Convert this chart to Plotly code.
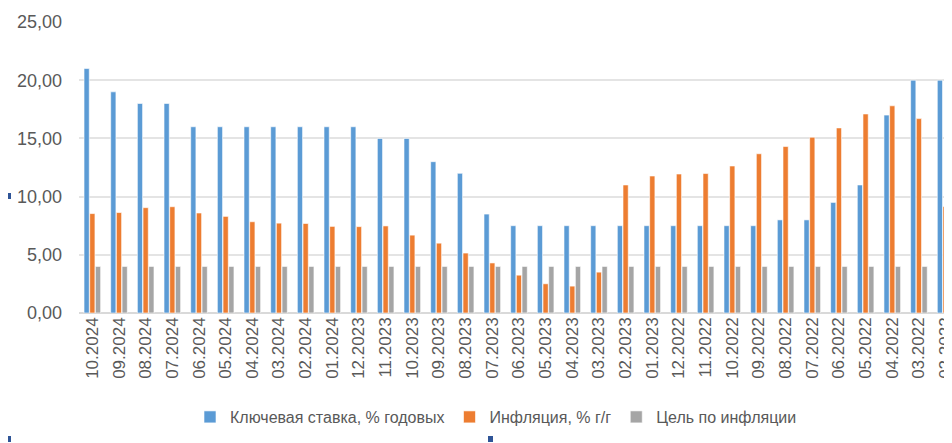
import plotly.graph_objects as go

categories = ["10.2024", "09.2024", "08.2024", "07.2024", "06.2024", "05.2024", "04.2024",
              "03.2024", "02.2024", "01.2024", "12.2023", "11.2023", "10.2023", "09.2023",
              "08.2023", "07.2023", "06.2023", "05.2023", "04.2023", "03.2023", "02.2023",
              "01.2023", "12.2022", "11.2022", "10.2022", "09.2022", "08.2022", "07.2022",
              "06.2022", "05.2022", "04.2022", "03.2022", "02.2022"]

key_rate = [21, 19, 18, 18, 16, 16, 16, 16, 16, 16, 16, 15, 15, 13, 12, 8.5, 7.5, 7.5, 7.5,
            7.5, 7.5, 7.5, 7.5, 7.5, 7.5, 7.5, 8, 8, 9.5, 11, 17, 20, 20]

inflation = [8.54, 8.63, 9.05, 9.13, 8.59, 8.30, 7.84, 7.72, 7.69, 7.44, 7.42, 7.48, 6.69,
             6.00, 5.15, 4.30, 3.25, 2.51, 2.31, 3.51, 11.0, 11.77, 11.94, 11.98, 12.63,
             13.68, 14.30, 15.10, 15.90, 17.10, 17.80, 16.70, 9.15]

target = [4.0] * len(categories)

series_names = ["Ключевая ставка, % годовых", "Инфляция, % г/г", "Цель по инфляции"]
colors = ["#5B9BD5", "#ED7D31", "#A5A5A5"]

fig = go.Figure()
for name, vals, col in zip(series_names, [key_rate, inflation, target], colors):
    fig.add_trace(go.Bar(x=categories, y=vals, name=name,
                         marker=dict(color=col, line=dict(color="white", width=0.6))))

font_family = "Liberation Sans, Arial, sans-serif"
grey_text = "#595959"

# page has an 8px body margin: figure coordinates = page coordinates - 8
OFF = 8
W, H = 952 - OFF, 443 - OFF
L, T = 79 - OFF, 22 - OFF
PLOT_BOTTOM = 313 - OFF
B = H - PLOT_BOTTOM
PW, PH = W - L, H - T - B


def px(xp):
    return (xp - OFF - L) / PW


def py(yp):
    return (PLOT_BOTTOM - (yp - OFF)) / PH


fig.update_layout(
    width=W, height=H,
    margin=dict(l=L, r=0, t=T, b=B, autoexpand=False),
    paper_bgcolor="white", plot_bgcolor="white",
    barmode="group", bargap=0.36, bargroupgap=0.08,
    separators=", ",
    font=dict(family=font_family, color=grey_text),
    showlegend=True,
    legend=dict(orientation="h", x=px(496), xanchor="center",
                y=py(417), yanchor="middle",
                font=dict(size=16, color=grey_text), itemwidth=30, traceorder="normal"),
    xaxis=dict(type="category", range=[-0.5, 32.24], tickangle=-90, automargin=False,
               tickfont=dict(size=17, color=grey_text), showgrid=False,
               showline=False, ticks=""),
    yaxis=dict(range=[0, 25], tickvals=[0, 5, 10, 15, 20, 25], tickformat=".2f",
               automargin=False,
               tickfont=dict(size=18, color=grey_text), showgrid=True,
               gridcolor="#E4E4E4", gridwidth=1.5, zeroline=True, zerolinecolor="#D9D9D9",
               zerolinewidth=1.5, ticks="", ticklabelstandoff=16),
)

# small decorative markers present in the source image (page coordinates)
for (x0, y0) in [(6, 193), (6, 436), (488, 436)]:
    fig.add_shape(type="rect", xref="paper", yref="paper",
                  x0=px(x0), x1=px(x0 + 5),
                  y0=py(y0 + 6), y1=py(y0),
                  fillcolor="#2F5597", line=dict(width=0))

fig.write_html("out.html")
